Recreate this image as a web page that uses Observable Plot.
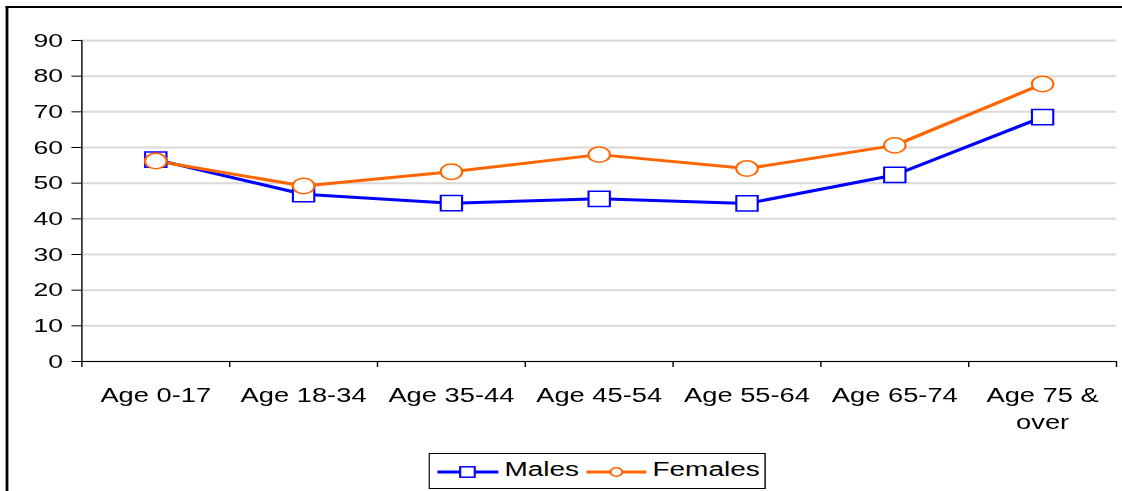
<!DOCTYPE html>
<html><head><meta charset="utf-8">
<script src="https://cdn.jsdelivr.net/npm/d3@7"></script>
<script src="https://cdn.jsdelivr.net/npm/@observablehq/plot@0.6"></script>
<style>
html,body{margin:0;padding:0;background:#fff;overflow:hidden;width:1122px;height:491px}
#wrap{position:relative;width:802px;height:491px;transform:scaleX(1.4);transform-origin:0 0;font-family:"Liberation Sans",Arial,sans-serif}
#frame{position:absolute;left:4.3px;top:6px;width:1000px;height:1000px;border-left:2px solid #000;border-top:2px solid #000;box-sizing:border-box}
#chart{position:absolute;left:0;top:0}
#legend{position:absolute;left:306.4px;top:453px;overflow:visible}
</style></head><body>
<div id="wrap"><div id="frame"></div><div id="chart"></div><svg id="legend" width="241" height="36"></svg></div>
<script>
const categories = ["Age 0-17","Age 18-34","Age 35-44","Age 45-54","Age 55-64","Age 65-74","Age 75 & over"];
const males = [56.6, 46.9, 44.4, 45.6, 44.3, 52.3, 68.5];
const females = [56.2, 49.2, 53.2, 58.0, 54.1, 60.6, 77.8];
const yTicks = [0,10,20,30,40,50,60,70,80,90];
const seriesNames = ["Males","Females"];
const seriesColors = ["#0000FF","#FF6600"];

const maleRows = males.map((v,i)=>({pos: i + 0.5, v}));
const femaleRows = females.map((v,i)=>({pos: i + 0.5, v}));
const bounds = d3.range(categories.length + 1);
const centers = d3.range(categories.length).map(i => i + 0.5);

const chart = Plot.plot({
  width: 802, height: 440,
  marginLeft: 58, marginRight: 5, marginTop: 40, marginBottom: 79,
  style: {fontFamily: '"Liberation Sans", Arial, sans-serif', background: "transparent", overflow: "visible", color: "#000"},
  x: {domain: [0, categories.length], axis: null, label: null},
  y: {domain: [0, 90], axis: null, label: null},
  marks: [
    Plot.gridY(yTicks, {stroke: "#d9d9d9", strokeOpacity: 1, strokeWidth: 2}),
    Plot.axisY(yTicks, {tickSize: 7, tickPadding: 6.5, fontSize: 19, label: null}),
    Plot.axisX(bounds, {tickSize: 6, tickFormat: () => "", label: null}),
    Plot.axisX(centers, {tickSize: 0, tickPadding: 22, fontSize: 19.5, lineWidth: 5.5, lineHeight: 1.35, label: null,
      tickFormat: v => categories[Math.round(v - 0.5)]}),
    Plot.ruleX([0], {stroke: "#000", strokeWidth: 1}),
    Plot.ruleY([0], {stroke: "#000", strokeWidth: 1}),
    Plot.line(maleRows, {x: "pos", y: "v", stroke: seriesColors[0], strokeWidth: 3}),
    Plot.line(femaleRows, {x: "pos", y: "v", stroke: seriesColors[1], strokeWidth: 3}),
    Plot.dot(maleRows, {x: "pos", y: "v", symbol: "square", r: 8.6, fill: "#fff", stroke: seriesColors[0], strokeWidth: 1.5}),
    Plot.dot(femaleRows, {x: "pos", y: "v", symbol: "circle", r: 7.7, fill: "#fff", stroke: seriesColors[1], strokeWidth: 1.5})
  ]
});
document.getElementById("chart").appendChild(chart);

// legend
const lg = d3.select("#legend");
lg.append("rect").attr("x", 0.5).attr("y", 0.5).attr("width", 240).attr("height", 35)
  .attr("fill", "#fff").attr("stroke", "#000").attr("stroke-width", 1);
const items = [
  {name: seriesNames[0], color: seriesColors[0], x0: 6.5, x1: 50, cx: 27.9, tx: 54.3, shape: "square"},
  {name: seriesNames[1], color: seriesColors[1], x0: 112.9, x1: 155.7, cx: 134.3, tx: 160, shape: "circle"}
];
for (const it of items) {
  lg.append("line").attr("x1", it.x0).attr("x2", it.x1).attr("y1", 19).attr("y2", 19)
    .attr("stroke", it.color).attr("stroke-width", 3);
  if (it.shape === "square") {
    lg.append("rect").attr("x", it.cx - 5.2).attr("y", 19 - 5.2).attr("width", 10.4).attr("height", 10.4)
      .attr("fill", "#fff").attr("stroke", it.color).attr("stroke-width", 1.5);
  } else {
    lg.append("circle").attr("cx", it.cx).attr("cy", 19).attr("r", 4.2)
      .attr("fill", "#fff").attr("stroke", it.color).attr("stroke-width", 1.5);
  }
  lg.append("text").attr("x", it.tx).attr("y", 23).attr("font-size", 20)
    .attr("font-family", '"Liberation Sans", Arial, sans-serif').attr("fill", "#000").text(it.name);
}
</script>
</body></html>
